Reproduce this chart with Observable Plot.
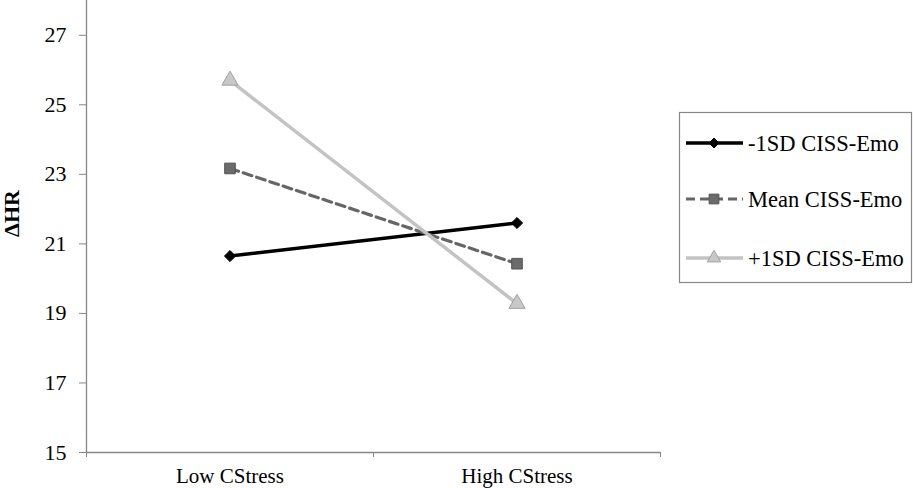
<!DOCTYPE html>
<html><head><meta charset="utf-8">
<script src="https://cdn.jsdelivr.net/npm/d3@7"></script>
<script src="https://cdn.jsdelivr.net/npm/@observablehq/plot@0.6"></script>
<style>
body{margin:0;background:#fff;}
#wrap{position:relative;width:913px;height:488px;}
#wrap svg, #wrap svg text{font-family:'Liberation Serif','Times New Roman',Times,'DejaVu Serif',serif !important;}
#legend{position:absolute;left:679px;top:112px;}
</style></head><body><div id="wrap"></div>
<script>
const categories = ["Low CStress", "High CStress"];
const seriesNames = ["-1SD CISS-Emo", "Mean CISS-Emo", "+1SD CISS-Emo"];
const minus1SD = [20.65, 21.6];
const meanVals = [23.17, 20.43];
const plus1SD = [25.7, 19.28];
const yTicks = [15, 17, 19, 21, 23, 25, 27];
const yLabel = "ΔHR";

const styles = [
  {stroke: "#000000", dash: null, width: 3.5, symbol: "diamond2", r: 5, fill: "#000000", mstroke: "#000000"},
  {stroke: "#666666", dash: "9,5", width: 3.2, symbol: "square", r: 6, fill: "#6b6b6b", mstroke: "#555555"},
  {stroke: "#c3c3c3", dash: null, width: 3.5, symbol: "triangle", r: 6, fill: "#c8c8c8", mstroke: "#a0a0a0"}
];
const seriesVals = [minus1SD, meanVals, plus1SD];

const rows = [];
seriesVals.forEach((vals, s) => vals.forEach((v, i) => rows.push({series: seriesNames[s], s, x: i + 0.5, value: v})));

const axisColor = "#868686";

const marks = [
  Plot.ruleY([15], {stroke: axisColor, strokeWidth: 1.3}),
  Plot.ruleX([0], {stroke: axisColor, strokeWidth: 1.3}),
  Plot.axisY({ticks: yTicks, tickSize: 7, tickPadding: 13, fontSize: 22, label: null, stroke: axisColor, tickFormat: d => String(d)}),
  Plot.axisX({ticks: [0, 1, 2], tickSize: 5, tickFormat: () => "", label: null, stroke: axisColor}),
  Plot.axisX({ticks: [0.5, 1.5], tickSize: 0, tickPadding: 16, fontSize: 21, tickFormat: d => categories[Math.round(d - 0.5)], label: null}),
  Plot.text([yLabel], {frameAnchor: "left", dx: -75, dy: -13, rotate: -90, fontWeight: "bold", fontSize: 22, textAnchor: "middle", fill: "#000"})
];
styles.forEach((st, s) => {
  const d = rows.filter(r => r.s === s);
  marks.push(Plot.lineY(d, {x: "x", y: "value", stroke: st.stroke, strokeWidth: st.width, strokeDasharray: st.dash || undefined}));
});
styles.forEach((st, s) => {
  const d = rows.filter(r => r.s === s);
  marks.push(Plot.dot(d, {x: "x", y: "value", symbol: () => st.symbol, r: st.r, fill: st.fill, stroke: st.mstroke, strokeWidth: 1}));
});

const chart = Plot.plot({
  width: 913, height: 488,
  marginLeft: 86, marginRight: 253, marginTop: 0, marginBottom: 36,
  style: {fontSize: "21px", background: "#fff", color: "#000", overflow: "visible"},
  x: {type: "linear", domain: [0, 2], axis: null},
  y: {domain: [15, 28], axis: null},
  symbol: {type: "identity"},
  marks
});
document.getElementById("wrap").appendChild(chart);

// Legend
const lg = d3.select("#wrap").append("div").attr("id", "legend")
  .append("svg").attr("width", 233).attr("height", 171).style("overflow", "visible");
lg.append("rect").attr("x", 0.5).attr("y", 0.5).attr("width", 232).attr("height", 170)
  .attr("fill", "#fff").attr("stroke", "#888").attr("stroke-width", 1.2);
const rowY = [31, 87, 146];
styles.forEach((st, s) => {
  const g = lg.append("g").attr("transform", `translate(0,${rowY[s]})`);
  g.append("line").attr("x1", 7).attr("x2", 64).attr("y1", 0).attr("y2", 0)
    .attr("stroke", st.stroke).attr("stroke-width", st.width).attr("stroke-dasharray", st.dash);
  const symMap = {diamond2: d3.symbolDiamond2, square: d3.symbolSquare, triangle: d3.symbolTriangle};
  g.append("path").attr("transform", "translate(35,0)")
    .attr("d", d3.symbol(symMap[st.symbol], Math.PI * (st.r - (s === 2 ? 1 : 0.5)) ** 2)())
    .attr("fill", st.fill).attr("stroke", st.mstroke).attr("stroke-width", 1);
  g.append("text").attr("x", 69).attr("y", 0).attr("dy", "0.35em")
    .attr("font-size", 22.5).attr("fill", "#000").text(seriesNames[s]);
});
</script></body></html>
